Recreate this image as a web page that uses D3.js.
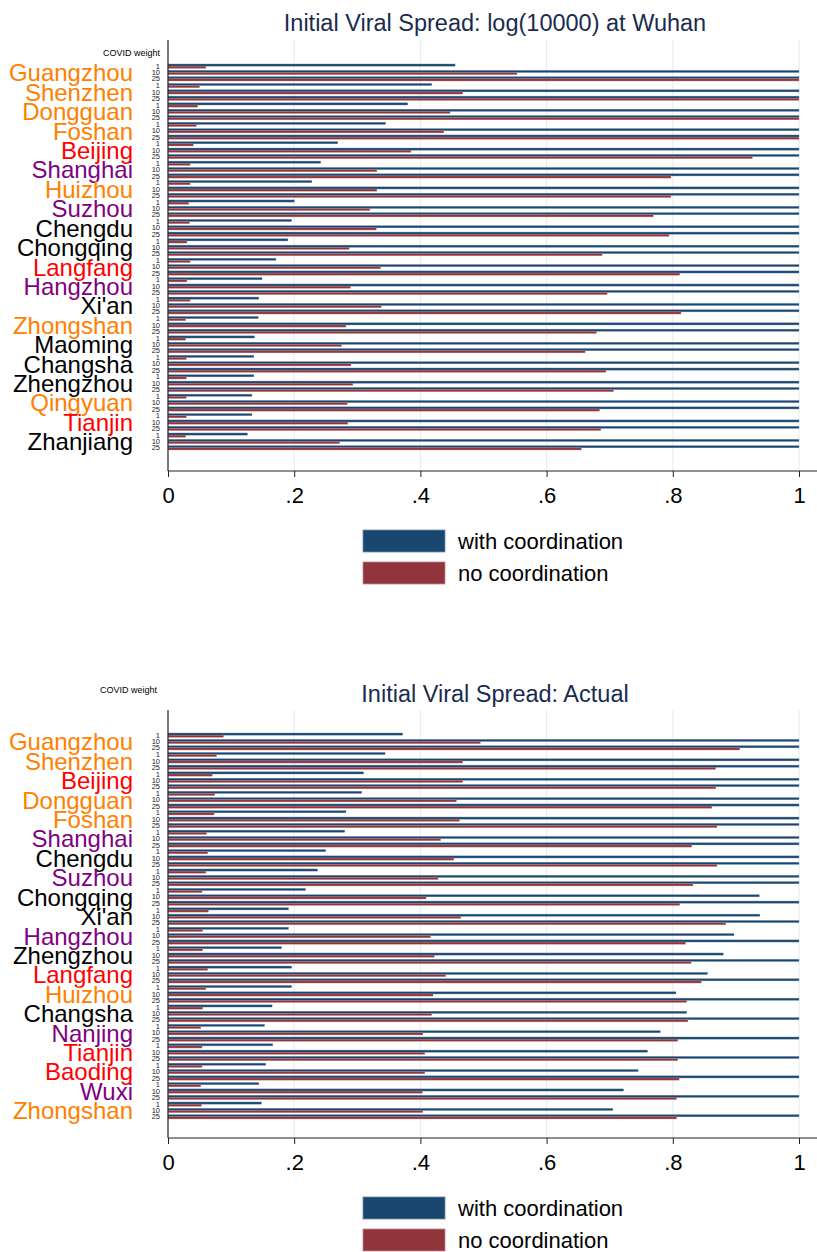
<!DOCTYPE html>
<html>
<head>
<meta charset="utf-8">
<script src="https://cdn.jsdelivr.net/npm/d3@7"></script>
<style>
  body { margin: 0; background: #fff; }
  text { font-family: "Liberation Sans", Arial, sans-serif; }
</style>
</head>
<body>
<div id="chart"></div>
<script>
// ---- data ----
const weights = ["1", "10", "25"];
const seriesNames = ["with coordination", "no coordination"];

const cities1 = ["Guangzhou", "Shenzhen", "Dongguan", "Foshan", "Beijing", "Shanghai", "Huizhou", "Suzhou",
  "Chengdu", "Chongqing", "Langfang", "Hangzhou", "Xi'an", "Zhongshan", "Maoming", "Changsha",
  "Zhengzhou", "Qingyuan", "Tianjin", "Zhanjiang"];
const groups1 = ["gd", "gd", "gd", "gd", "jj", "yz", "gd", "yz", "o", "o", "jj", "yz", "o", "gd", "o", "o", "o", "gd", "jj", "o"];
// values for weight 1, 10, 25
const withCoord1 = [
  [.455, 1, 1], [.418, 1, 1], [.380, 1, 1], [.345, 1, 1], [.269, 1, 1], [.242, 1, 1], [.228, 1, 1], [.200, 1, 1],
  [.196, 1, 1], [.190, 1, 1], [.171, 1, 1], [.149, 1, 1], [.144, 1, 1], [.143, 1, 1], [.137, 1, 1], [.136, 1, 1],
  [.136, 1, 1], [.133, 1, 1], [.133, 1, 1], [.126, 1, 1]];
const noCoord1 = [
  [.060, .553, 1], [.050, .467, 1], [.047, .447, 1], [.045, .437, 1], [.040, .385, .926], [.035, .331, .797],
  [.035, .331, .797], [.033, .320, .769], [.034, .330, .794], [.030, .287, .688], [.035, .337, .811],
  [.030, .289, .696], [.035, .338, .813], [.028, .282, .679], [.028, .275, .661], [.029, .290, .694],
  [.029, .293, .706], [.029, .284, .684], [.029, .285, .686], [.028, .272, .655]];

const cities2 = ["Guangzhou", "Shenzhen", "Beijing", "Dongguan", "Foshan", "Shanghai", "Chengdu", "Suzhou",
  "Chongqing", "Xi'an", "Hangzhou", "Zhengzhou", "Langfang", "Huizhou", "Changsha", "Nanjing",
  "Tianjin", "Baoding", "Wuxi", "Zhongshan"];
const groups2 = ["gd", "gd", "jj", "gd", "gd", "yz", "o", "yz", "o", "o", "yz", "o", "jj", "gd", "o", "yz", "jj", "jj", "yz", "gd"];
const withCoord2 = [
  [.372, 1, 1], [.344, 1, 1], [.310, 1, 1], [.307, 1, 1], [.282, 1, 1], [.280, 1, 1], [.250, 1, 1], [.237, 1, 1],
  [.218, .937, 1], [.191, .938, 1], [.191, .897, 1], [.180, .880, 1], [.196, .855, 1], [.196, .805, 1],
  [.165, .822, 1], [.153, .780, 1], [.166, .760, 1], [.155, .745, 1], [.144, .722, 1], [.148, .705, 1]];
const noCoord2 = [
  [.088, .495, .906], [.077, .467, .868], [.070, .467, .868], [.074, .457, .862], [.073, .462, .870],
  [.061, .432, .830], [.063, .453, .870], [.060, .428, .832], [.054, .409, .811], [.064, .464, .884],
  [.055, .416, .820], [.055, .422, .829], [.063, .440, .845], [.060, .420, .822], [.055, .418, .824],
  [.052, .404, .808], [.054, .407, .808], [.054, .407, .810], [.052, .403, .806], [.053, .404, .806]];

const xTicks = [0, .2, .4, .6, .8, 1];

// ---- styles ----
const groupColor = { gd: "#ff8000", jj: "#ff0000", yz: "#800080", o: "#000000" };
const barColor = ["#1a476f", "#90353b"];
const barEdge = ["#6f8ca6", "#bd8a8e"];
const titleColor = "#1a2b4f";

const W = 817, H = 1252;
const svg = d3.select("#chart").append("svg")
  .attr("width", W).attr("height", H);

const x = d3.scaleLinear().domain([0, 1]).range([168, 799]);

function drawPanel(opt) {
  const g = svg.append("g");
  const rows = opt.cities.map((c, i) => ({ city: c, grp: opt.groups[i], w: opt.withC[i], n: opt.noC[i] }));

  const y = d3.scaleBand().domain(opt.cities)
    .range([opt.barTop, opt.barTop + opt.cities.length * 19.42]);
  const yw = d3.scaleBand().domain(weights).range([0, 17]).paddingInner(0.32);
  const ys = d3.scaleBand().domain([0, 1]).range([0, yw.bandwidth()]);

  // grid
  g.selectAll("line.grid").data(xTicks.slice(1)).join("line")
    .attr("x1", d => x(d)).attr("x2", d => x(d))
    .attr("y1", opt.top).attr("y2", opt.axisY)
    .attr("stroke", "#e6eef2").attr("stroke-width", 1.2);

  // bars
  const cityG = g.selectAll("g.city").data(rows).join("g")
    .attr("transform", d => `translate(0,${y(d.city)})`);
  cityG.each(function (d) {
    const bars = [];
    weights.forEach((wt, wi) => {
      bars.push({ wt, s: 0, v: d.w[wi] });
      bars.push({ wt, s: 1, v: d.n[wi] });
    });
    d3.select(this).selectAll("rect").data(bars).join("rect")
      .attr("x", x(0))
      .attr("y", b => yw(b.wt) + ys(b.s))
      .attr("width", b => x(b.v) - x(0))
      .attr("height", ys.bandwidth())
      .attr("fill", b => barColor[b.s])
      .attr("stroke", b => barEdge[b.s])
      .attr("stroke-width", 0.4);
    d3.select(this).selectAll("text.wt").data(weights).join("text")
      .attr("class", "wt")
      .attr("x", 160).attr("y", wt => yw(wt) + yw.bandwidth() / 2 + 2.6)
      .attr("text-anchor", "end").attr("font-size", 7.5).attr("fill", "#222")
      .text(wt => wt);
  });

  // city labels
  g.selectAll("text.city").data(rows).join("text")
    .attr("x", 133)
    .attr("y", d => y(d.city) + 8.7 + 8.6)
    .attr("text-anchor", "end")
    .attr("font-size", 24)
    .attr("fill", d => groupColor[d.grp])
    .text(d => d.city);

  // axes
  g.append("line").attr("x1", x(0)).attr("x2", x(0))
    .attr("y1", opt.top).attr("y2", opt.axisY)
    .attr("stroke", "#222").attr("stroke-width", 1.2);
  const ax = g.append("g").attr("transform", `translate(0,${opt.axisY})`)
    .call(d3.axisBottom(x).tickValues(xTicks).tickSize(6).tickPadding(10)
      .tickFormat(d => d === 0 ? "0" : d === 1 ? "1" : d3.format(".1f")(d).replace("0.", ".")));
  ax.select(".domain").attr("d", `M${x(0)},0H${W}`).attr("stroke", "#222").attr("stroke-width", 1.2);
  ax.selectAll(".tick line").attr("stroke", "#222");
  ax.selectAll(".tick text").attr("font-size", 22).attr("fill", "#000")
    .attr("font-family", "Liberation Sans, Arial, sans-serif");

  // title
  g.append("text").attr("x", 495).attr("y", opt.titleY)
    .attr("text-anchor", "middle").attr("font-size", 23.5).attr("fill", titleColor)
    .text(opt.title);

  g.append("text").attr("x", opt.covidX).attr("y", opt.covidY)
    .attr("text-anchor", "end").attr("font-size", 9).attr("fill", "#000")
    .text("COVID weight");

  // legend
  const lg = g.append("g").attr("transform", `translate(363,${opt.axisY + 59})`);
  lg.selectAll("rect").data(seriesNames).join("rect")
    .attr("x", 0).attr("y", (d, i) => i * 32)
    .attr("width", 82).attr("height", 22)
    .attr("fill", (d, i) => barColor[i])
    .attr("stroke", (d, i) => barEdge[i]).attr("stroke-width", 0.8);
  lg.selectAll("text").data(seriesNames).join("text")
    .attr("x", 95).attr("y", (d, i) => i * 32 + 11 + 7.8)
    .attr("font-size", 22).attr("fill", "#000")
    .text(d => d);
}

drawPanel({
  cities: cities1, groups: groups1, withC: withCoord1, noC: noCoord1,
  title: "Initial Viral Spread: log(10000) at Wuhan",
  top: 40, barTop: 64, axisY: 471, titleY: 31, covidX: 160, covidY: 56
});
drawPanel({
  cities: cities2, groups: groups2, withC: withCoord2, noC: noCoord2,
  title: "Initial Viral Spread: Actual",
  top: 710, barTop: 733, axisY: 1138, titleY: 702, covidX: 157, covidY: 693
});
</script>
</body>
</html>
